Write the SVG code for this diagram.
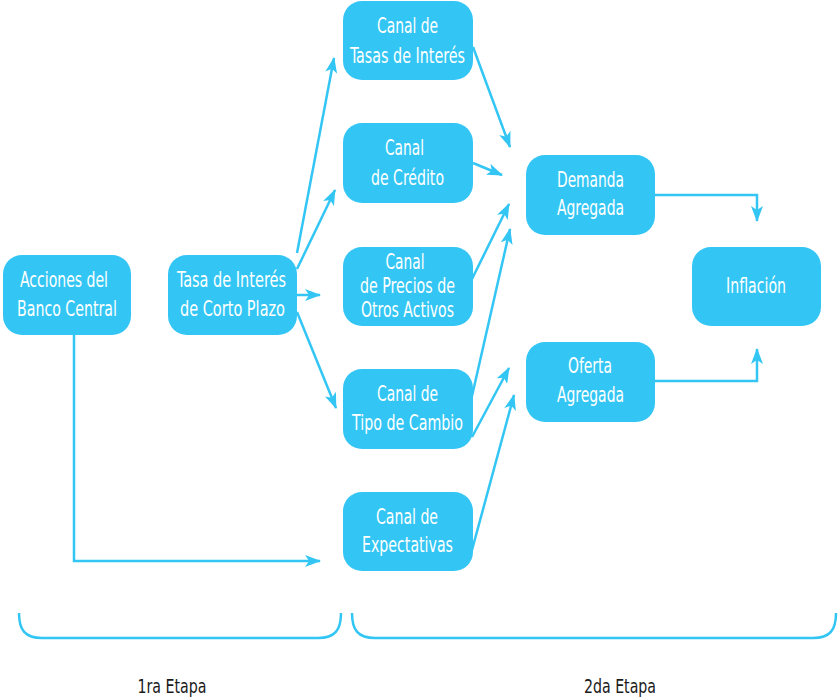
<svg xmlns="http://www.w3.org/2000/svg" width="839" height="700" viewBox="0 0 839 700">
<style>
.node{fill:#33c6f4;}
.lbl{fill:#ffffff;font-family:"Liberation Sans Narrow","DejaVu Sans Condensed","Liberation Sans",sans-serif;font-size:22px;text-anchor:middle;}
.stage{fill:#1a1a1a;font-family:"Liberation Sans Narrow","DejaVu Sans Condensed","Liberation Sans",sans-serif;font-size:20px;text-anchor:middle;}
.con{fill:none;stroke:#33c6f4;stroke-width:2.5;}
.arr{marker-end:url(#ah);}
</style>
<defs>
<marker id="ah" viewBox="0 0 16 12" refX="15" refY="6" markerWidth="16" markerHeight="12" markerUnits="userSpaceOnUse" orient="auto">
<path d="M0,0 L16,6 L0,12 L4,6 Z" fill="#33c6f4"/>
</marker>
</defs>
<rect width="839" height="700" fill="#ffffff"/>

<g id="connectors">
<path class="con arr" d="M74,335 L74,561 L320,561"/>
<path class="con arr" d="M297,253 L334,58"/>
<path class="con arr" d="M297,269 L335,190"/>
<path class="con arr" d="M297,295 L320,295"/>
<path class="con arr" d="M297,312 L336,408"/>
<path class="con arr" d="M473,47 L510,147"/>
<path class="con arr" d="M473,163 L502,175"/>
<path class="con arr" d="M472,279 L509,204"/>
<path class="con arr" d="M472,396 L510,229"/>
<path class="con arr" d="M472,437 L509,368"/>
<path class="con arr" d="M472,550 L514,395"/>
<path class="con arr" d="M655,195 L757,195 L757,221"/>
<path class="con arr" d="M655,381 L757,381 L757,349"/>
</g>

<g id="acciones">
<rect class="node" x="3" y="255" width="128" height="80" rx="19"/>
<text class="lbl" x="64" y="287" textLength="88" lengthAdjust="spacingAndGlyphs">Acciones del</text>
<text class="lbl" x="67" y="316" textLength="100" lengthAdjust="spacingAndGlyphs">Banco Central</text>
</g>
<g id="tasa">
<rect class="node" x="168" y="255" width="129" height="80" rx="19"/>
<text class="lbl" x="231.5" y="287" textLength="109" lengthAdjust="spacingAndGlyphs">Tasa de Interés</text>
<text class="lbl" x="232.5" y="316" textLength="105" lengthAdjust="spacingAndGlyphs">de Corto Plazo</text>
</g>
<g id="canal-tasas">
<rect class="node" x="343" y="1" width="130" height="79" rx="19"/>
<text class="lbl" x="407.5" y="33" textLength="61" lengthAdjust="spacingAndGlyphs">Canal de</text>
<text class="lbl" x="407.5" y="63" textLength="115" lengthAdjust="spacingAndGlyphs">Tasas de Interés</text>
</g>
<g id="canal-credito">
<rect class="node" x="343" y="123" width="130" height="80" rx="19"/>
<text class="lbl" x="404.5" y="155" textLength="39" lengthAdjust="spacingAndGlyphs">Canal</text>
<text class="lbl" x="407.5" y="185" textLength="73" lengthAdjust="spacingAndGlyphs">de Crédito</text>
</g>
<g id="canal-precios">
<rect class="node" x="343" y="247" width="130" height="79" rx="19"/>
<text class="lbl" x="405" y="269" textLength="39" lengthAdjust="spacingAndGlyphs">Canal</text>
<text class="lbl" x="407.5" y="293" textLength="95" lengthAdjust="spacingAndGlyphs">de Precios de</text>
<text class="lbl" x="407.5" y="317" textLength="93" lengthAdjust="spacingAndGlyphs">Otros Activos</text>
</g>
<g id="canal-cambio">
<rect class="node" x="343" y="369" width="130" height="80" rx="19"/>
<text class="lbl" x="407.5" y="401" textLength="61" lengthAdjust="spacingAndGlyphs">Canal de</text>
<text class="lbl" x="407.5" y="430" textLength="111" lengthAdjust="spacingAndGlyphs">Tipo de Cambio</text>
</g>
<g id="canal-expectativas">
<rect class="node" x="343" y="492" width="130" height="79" rx="19"/>
<text class="lbl" x="407" y="524" textLength="62" lengthAdjust="spacingAndGlyphs">Canal de</text>
<text class="lbl" x="407.5" y="552" textLength="91" lengthAdjust="spacingAndGlyphs">Expectativas</text>
</g>
<g id="demanda">
<rect class="node" x="526" y="155" width="129" height="80" rx="19"/>
<text class="lbl" x="590.5" y="187" textLength="67" lengthAdjust="spacingAndGlyphs">Demanda</text>
<text class="lbl" x="590.5" y="215" textLength="67" lengthAdjust="spacingAndGlyphs">Agregada</text>
</g>
<g id="oferta">
<rect class="node" x="526" y="342" width="129" height="80" rx="19"/>
<text class="lbl" x="590" y="373" textLength="44" lengthAdjust="spacingAndGlyphs">Oferta</text>
<text class="lbl" x="590.5" y="402" textLength="67" lengthAdjust="spacingAndGlyphs">Agregada</text>
</g>
<g id="inflacion">
<rect class="node" x="692" y="247" width="129" height="79" rx="19"/>
<text class="lbl" x="756" y="293" textLength="60" lengthAdjust="spacingAndGlyphs">Inflación</text>
</g>

<g id="stages">
<path class="con" d="M19,613 C19,630 25,638 42,638 L318,638 C335,638 341,630 341,613"/>
<path class="con" d="M352,613 C352,630 358,638 375,638 L813,638 C830,638 836,630 836,613"/>
<text class="stage" x="172" y="693" textLength="69" lengthAdjust="spacingAndGlyphs">1ra Etapa</text>
<text class="stage" x="620" y="693" textLength="72" lengthAdjust="spacingAndGlyphs">2da Etapa</text>
</g>
</svg>
